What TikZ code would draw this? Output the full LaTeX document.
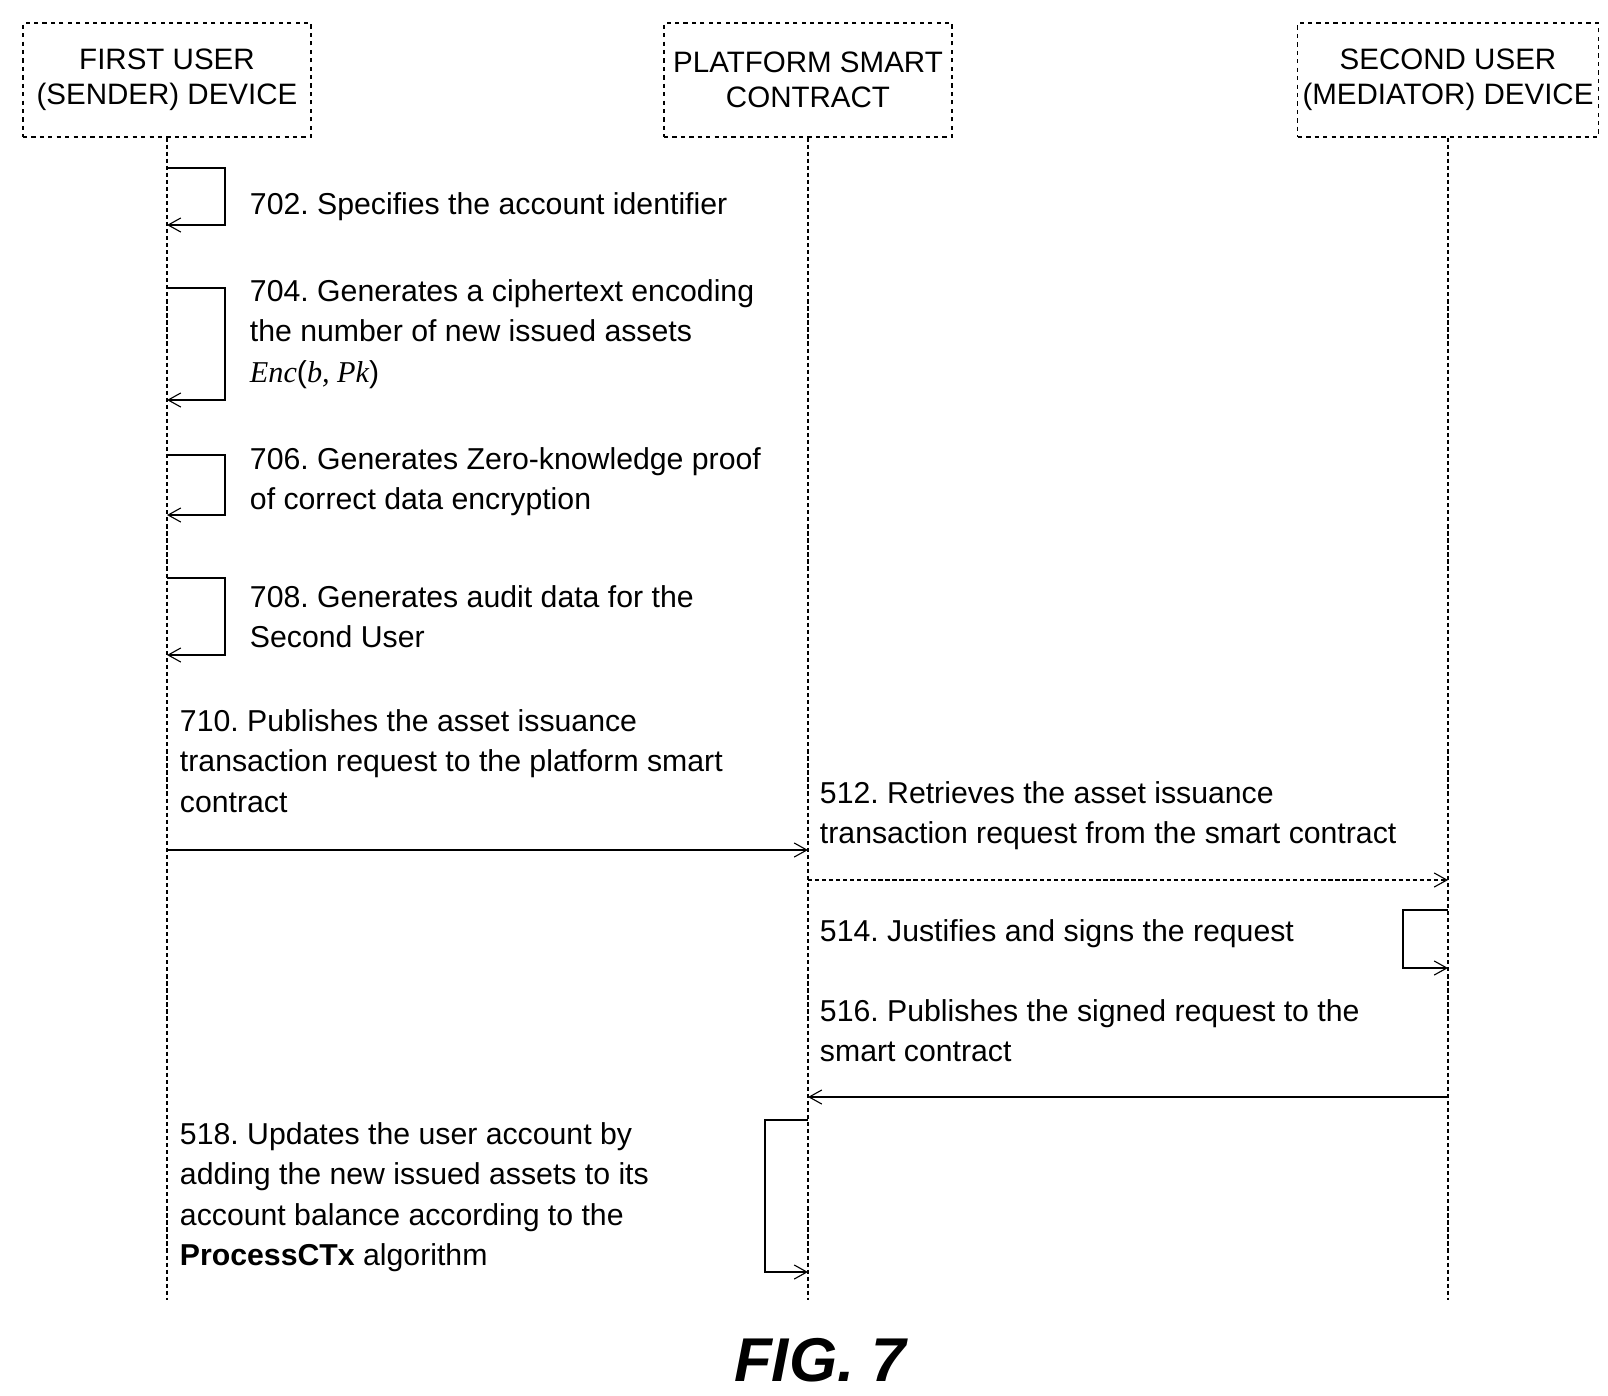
\documentclass[tikz,border=0pt]{standalone}
\usepackage{fontspec}
\setmainfont{Liberation Sans}
\newfontfamily\serifit{Liberation Serif}
\frenchspacing
\usetikzlibrary{arrows.meta}
\tikzset{
  actor/.style={draw, thick, dashed, minimum width=7.2cm, minimum height=2.85cm, align=center, font=\fontsize{21}{25}\selectfont},
  life/.style={thick, densely dashed},
  msg/.style={thick, -{Straight Barb[length=9pt,width=10pt]}},
  txt/.style={anchor=north west, align=left, font=\fontsize{21.5}{28.5}\selectfont}
}
\begin{document}
\begin{tikzpicture}[x=0.025cm,y=-0.025cm]
  \useasboundingbox (0,0) rectangle (1608,1395);
  % participants
  \node[actor] (send) at (167,80) {FIRST USER\\(SENDER) DEVICE};
  \node[actor] (plat) at (808,80) {PLATFORM SMART\\CONTRACT};
  \node[actor] (med) at (1448,80) {SECOND USER\\(MEDIATOR) DEVICE};
  \coordinate (sendE) at (167,1300);
  \coordinate (platE) at (808,1300);
  \coordinate (medE) at (1448,1300);
  \draw[life] (send) -- (sendE);
  \draw[life] (plat) -- (platE);
  \draw[life] (med) -- (medE);
  % self calls of the sender
  \foreach \ya/\yb in {168/225, 288/400, 455/515, 578/655}
    \draw[msg] (167,\ya) -- (225,\ya) -- (225,\yb) -- (167,\yb);
  \node[txt] (t702) at (245,188) {702. Specifies the account identifier};
  \node[txt] (t704) at (245,275) {704. Generates a ciphertext encoding\\the number of new issued assets\\{\serifit\itshape Enc}({\serifit\itshape b, Pk})};
  \node[txt] (t706) at (245,443) {706. Generates Zero-knowledge proof\\of correct data encryption};
  \node[txt] (t708) at (245,581) {708. Generates audit data for the\\Second User};
  % messages
  \coordinate (m710a) at (167,850);
  \coordinate (m710b) at (808,850);
  \draw[msg] (m710a) -- (m710b);
  \node[txt] (t710) at (175,705) {710. Publishes the asset issuance\\transaction request to the platform smart\\contract};
  \coordinate (m512a) at (808,880);
  \coordinate (m512b) at (1448,880);
  \draw[msg, densely dashed] (m512a) -- (m512b);
  \node[txt] (t512) at (815,777) {512. Retrieves the asset issuance\\transaction request from the smart contract};
  \draw[msg] (1448,910) -- (1403,910) -- (1403,968) -- (1448,968);
  \node[txt] (t514) at (815,915) {514. Justifies and signs the request};
  \coordinate (m516a) at (1448,1097);
  \coordinate (m516b) at (808,1097);
  \draw[msg] (m516a) -- (m516b);
  \node[txt] (t516) at (815,995) {516. Publishes the signed request to the\\smart contract};
  \draw[msg] (808,1120) -- (765,1120) -- (765,1272) -- (808,1272);
  \node[txt] (t518) at (175,1118) {518. Updates the user account by\\adding the new issued assets to its\\account balance according to the\\\textbf{ProcessCTx} algorithm};
  \node[font=\fontsize{44}{50}\selectfont\bfseries\itshape] (fig) at (820,1360) {FIG. 7};
\end{tikzpicture}
\end{document}
